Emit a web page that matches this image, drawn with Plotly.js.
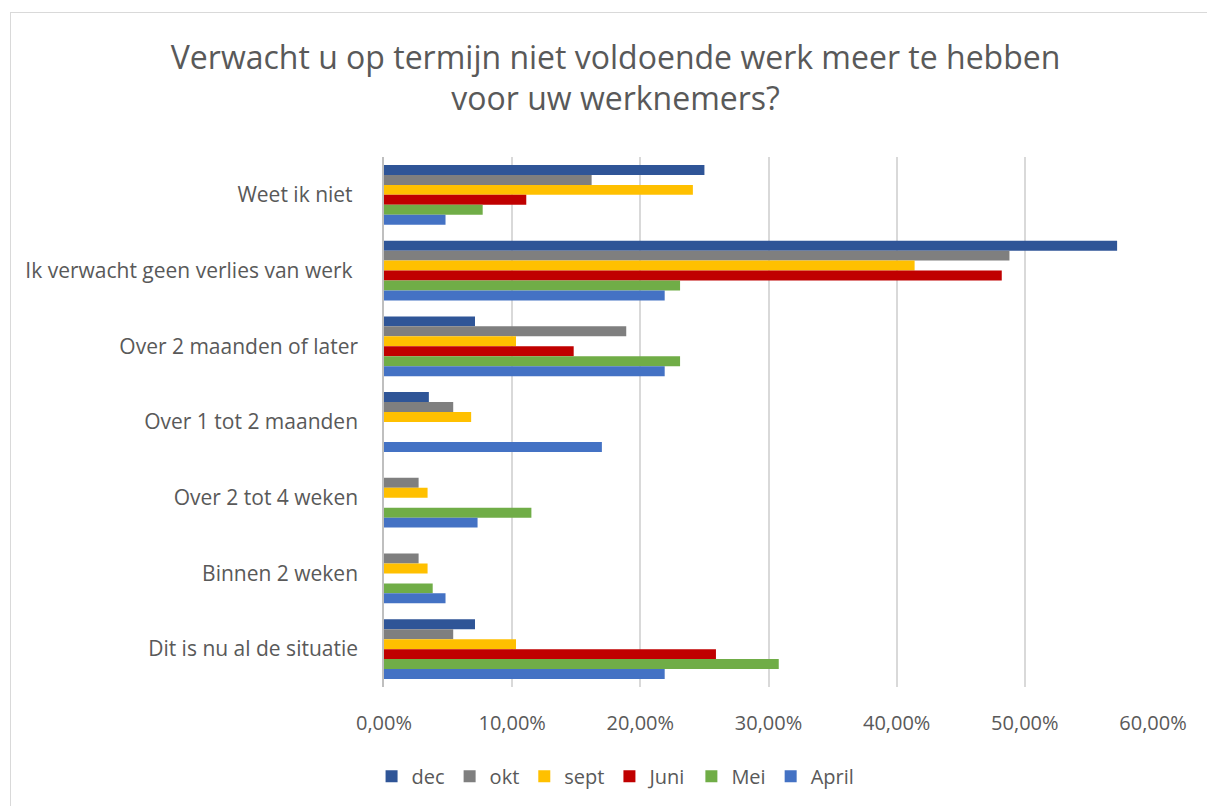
<!DOCTYPE html>
<html>
<head>
<meta charset="utf-8">
<script src="https://cdn.plot.ly/plotly-3.0.1.min.js"></script>
<style>
  body { margin: 0; overflow: hidden; background: #fff; }
  #chart { width: 1207px; height: 806px; }
  #frame { position: absolute; left: 10px; top: 12px; width: 1300px; height: 900px;
           border: 1px solid #d9d9d9; pointer-events: none; }
</style>
</head>
<body>
<div id="chart"></div>
<div id="frame"></div>
<script>
// categories, top to bottom
var categories = ["Weet ik niet ", "Ik verwacht geen verlies van werk ", "Over 2 maanden of later",
                  "Over 1 tot 2 maanden", "Over 2 tot 4 weken", "Binnen 2 weken", "Dit is nu al de situatie"];

// values per survey round (fractions)
var dec   = [0.250, 0.572, 0.071, 0.035, 0,     0,     0.071];
var okt   = [0.162, 0.488, 0.189, 0.054, 0.027, 0.027, 0.054];
var sept  = [0.241, 0.414, 0.103, 0.068, 0.034, 0.034, 0.103];
var juni  = [0.111, 0.482, 0.148, 0,     0,     0,     0.259];
var mei   = [0.077, 0.231, 0.231, 0,     0.115, 0.038, 0.308];
var april = [0.048, 0.219, 0.219, 0.170, 0.073, 0.048, 0.219];

var seriesNames = ['dec', 'okt', 'sept', 'Juni', 'Mei', 'April'];
var seriesValues = [dec, okt, sept, juni, mei, april];
var seriesColors = ['#2F5597', '#7F7F7F', '#FFC000', '#C00000', '#70AD47', '#4472C4'];

var data = seriesNames.map(function (name, i) {
  return {
    type: 'bar',
    orientation: 'h',
    name: name,
    y: categories,
    x: seriesValues[i],
    marker: { color: seriesColors[i] },
    hovertemplate: '%{y}: %{x:.2%}<extra>' + name + '</extra>'
  };
});

var layout = {
  width: 1207,
  height: 806,
  margin: { l: 384, r: 54, t: 157, b: 119 },
  paper_bgcolor: '#fff',
  plot_bgcolor: '#fff',
  font: { family: 'Open Sans, sans-serif', color: '#595959', size: 20 },
  separators: ',.',
  barmode: 'group',
  bargap: 0.21,
  bargroupgap: 0,
  title: {
    text: 'Verwacht u op termijn niet voldoende werk meer te hebben<br>voor uw werknemers?',
    font: { size: 32, color: '#595959' },
    x: 0.51, xanchor: 'center',
    y: 0.915, yanchor: 'top'
  },
  xaxis: {
    range: [0, 0.6],
    dtick: 0.1,
    tickformat: '.2%',
    showgrid: true,
    gridcolor: '#d9d9d9',
    gridwidth: 1.5,
    zeroline: false,
    showline: false,
    ticks: '',
    ticklabelstandoff: 22,
    tickfont: { size: 20, color: '#595959' }
  },
  yaxis: {
    autorange: 'reversed',
    showgrid: false,
    zeroline: false,
    showline: true,
    linecolor: '#bfbfbf',
    linewidth: 1.5,
    ticks: '',
    ticklabelstandoff: 20,
    tickfont: { size: 21, color: '#595959' }
  },
  showlegend: true,
  legend: {
    orientation: 'h',
    xref: 'container', yref: 'container',
    x: 0.51, xanchor: 'center',
    y: 0.037, yanchor: 'middle',
    font: { size: 20, color: '#595959' },
    itemwidth: 30
  }
};

Plotly.newPlot('chart', data, layout, { displayModeBar: false });
</script>
</body>
</html>
